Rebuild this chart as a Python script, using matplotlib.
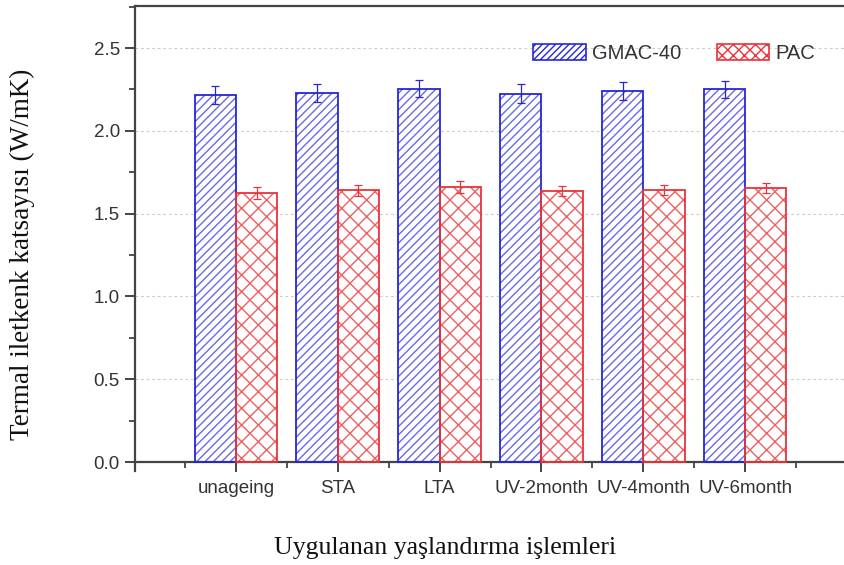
import matplotlib
matplotlib.use("Agg")
import matplotlib.pyplot as plt
import numpy as np
from matplotlib.patches import Patch
from matplotlib.ticker import MultipleLocator

categories = ["unageing", "STA", "LTA", "UV-2month", "UV-4month", "UV-6month"]
gmac_values = [2.215, 2.23, 2.255, 2.225, 2.24, 2.25]
gmac_errors = [0.055, 0.055, 0.05, 0.055, 0.055, 0.05]
pac_values = [1.625, 1.64, 1.66, 1.635, 1.645, 1.655]
pac_errors = [0.035, 0.035, 0.035, 0.03, 0.03, 0.03]
series_names = ["GMAC-40", "PAC"]
y_ticks = [0.0, 0.5, 1.0, 1.5, 2.0, 2.5]

blue_edge = "#2626d6"
blue_hatch = "#6a6ae6"
red_edge = "#e8333a"
red_hatch = "#f06060"
axis_col = "#444444"
text_col = "#333333"

plt.rcParams['hatch.linewidth'] = 1.0
fig = plt.figure(figsize=(8.44, 5.65), dpi=100)
ax = fig.add_axes([0.16, 0.1664, 0.84, 0.823])

x = np.arange(len(categories))
w = 0.405

# hatched fills
ax.bar(x - w / 2, gmac_values, w, facecolor="white", edgecolor=blue_hatch,
       hatch="////", linewidth=0, zorder=2)
ax.bar(x + w / 2, pac_values, w, facecolor="white", edgecolor=red_hatch,
       hatch="xx", linewidth=0, zorder=2)
# outlines
ax.bar(x - w / 2, gmac_values, w, facecolor="none", edgecolor=blue_edge,
       linewidth=1.3, zorder=3)
ax.bar(x + w / 2, pac_values, w, facecolor="none", edgecolor=red_edge,
       linewidth=1.3, zorder=3)
ax.errorbar(x - w / 2, gmac_values, yerr=gmac_errors, fmt="none",
            ecolor=blue_edge, elinewidth=0.9, capsize=3.2, capthick=0.9, zorder=4)
ax.errorbar(x + w / 2, pac_values, yerr=pac_errors, fmt="none",
            ecolor=red_edge, elinewidth=0.9, capsize=3.2, capthick=0.9, zorder=4)

ax.set_xlim(-0.99, 5.97)
ax.set_ylim(-0.054, 2.754)

ax.set_yticks(y_ticks)
ax.set_yticklabels([f"{v:.1f}" for v in y_ticks])
ax.yaxis.set_minor_locator(MultipleLocator(0.25))
ax.set_xticks(x)
ax.set_xticklabels(categories)
ax.set_xticks(np.arange(-0.5, 6.0, 1.0), minor=True)

ax.grid(axis="y", which="major", color="#cccccc", linestyle=(0, (2.5, 2.5)),
        linewidth=0.8, zorder=0)
ax.set_axisbelow(True)

ax.spines["right"].set_visible(False)
ax.spines["bottom"].set_position(("data", 0))
for s in ["left", "top", "bottom"]:
    ax.spines[s].set_color(axis_col)
    ax.spines[s].set_linewidth(1.6)

ax.tick_params(axis="both", which="major", direction="out", length=7,
               width=1.4, color=axis_col, labelcolor=text_col,
               labelsize=13.5)
ax.tick_params(axis="both", which="minor", direction="out", length=4,
               width=1.3, color=axis_col)
ax.tick_params(axis="y", pad=4)
ax.tick_params(axis="x", pad=6)
for lab in ax.get_xticklabels() + ax.get_yticklabels():
    lab.set_family("Liberation Sans")

fig.text(0.527, 0.03, "Uygulanan yaşlandırma işlemleri", ha="center", va="center",
         family="Liberation Serif", fontsize=18.5, color="#111111")
fig.text(0.027, 0.55, "Termal iletkenk katsayısı (W/mK)", ha="center", va="center",
         rotation=90, family="Liberation Serif", fontsize=19.5, color="#111111")

handles = [Patch(facecolor="white", edgecolor=blue_edge, hatch="/////", linewidth=1.2),
           Patch(facecolor="white", edgecolor=red_edge, hatch="xxx", linewidth=1.2)]
leg = ax.legend(handles, series_names, loc="center right", ncol=2, frameon=False,
                bbox_to_anchor=(0.985, 0.898), prop={"family": "Liberation Sans", "size": 14.5},
                handlelength=2.6, handleheight=0.8, columnspacing=1.8, handletextpad=0.3)
for t in leg.get_texts():
    t.set_color(text_col)

fig.savefig("out.png", dpi=100)
